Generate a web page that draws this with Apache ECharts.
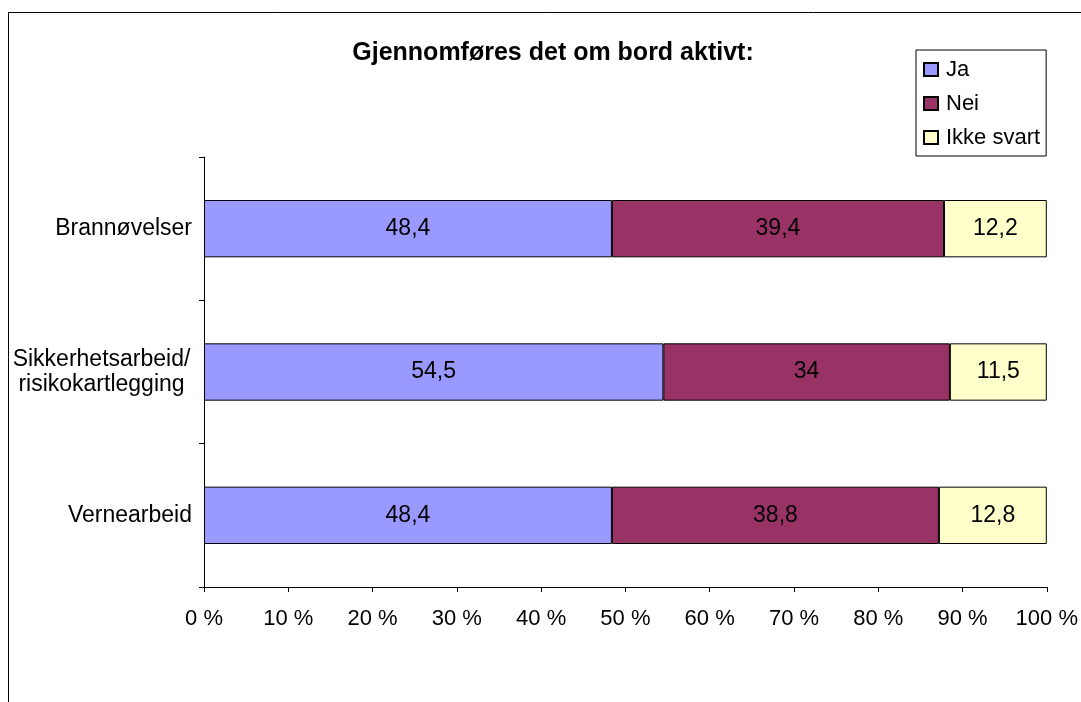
<!DOCTYPE html>
<html>
<head>
<meta charset="utf-8">
<script src="https://cdn.jsdelivr.net/npm/echarts@6/dist/echarts.min.js"></script>
<style>html,body{margin:0;padding:0;background:#fff;}#c{width:1081px;height:702px;}</style>
</head>
<body>
<div id="c"></div>
<script>
const categories = ['Brannøvelser', 'Sikkerhetsarbeid/\nrisikokartlegging', 'Vernearbeid'];
const ja = [48.4, 54.5, 48.4];
const nei = [39.4, 34, 38.8];
const ikkeSvart = [12.2, 11.5, 12.8];
const seriesNames = ['Ja', 'Nei', 'Ikke svart'];
const colors = ['#9999FF', '#993366', '#FFFFCC'];
const xTicks = [0, 10, 20, 30, 40, 50, 60, 70, 80, 90, 100];

const chart = echarts.init(document.getElementById('c'));
const font = 'Liberation Sans, Arial, sans-serif';
const fmt = v => String(v).replace('.', ',');
function mk(name, data, i) {
  return {
    name, type: 'bar', stack: 'all', data,
    barWidth: '40%',
    itemStyle: { color: colors[i], borderColor: '#000', borderWidth: 1 },
    label: { show: true, position: 'inside', color: '#000', fontFamily: font, fontSize: 23,
      formatter: p => fmt(p.value) },
    emphasis: { disabled: true }
  };
}
chart.setOption({
  animation: false,
  backgroundColor: '#fff',
  graphic: [{ type: 'rect', shape: { x: 8.5, y: 12.5, width: 1200, height: 900 },
    style: { fill: 'none', stroke: '#000', lineWidth: 1 }, silent: true }],
  title: { text: 'Gjennomføres det om bord aktivt:', left: 548, top: 36, textAlign: 'center',
    textStyle: { fontFamily: font, fontSize: 25, fontWeight: 'bold', color: '#000' } },
  legend: {
    data: seriesNames, orient: 'vertical', left: 916, top: 50,
    padding: [7, 6, 6, 7],
    itemGap: 9, itemWidth: 14, itemHeight: 13,
    backgroundColor: '#fff', borderColor: '#000', borderWidth: 1,
    icon: 'rect',
    textStyle: { fontFamily: font, fontSize: 22, color: '#000', lineHeight: 25, padding: [0, 0, 0, 3] }
  },
  grid: { left: 204, right: 34, top: 157, bottom: 115, containLabel: false },
  xAxis: {
    type: 'value', min: 0, max: 100, interval: 10,
    axisLine: { show: true, lineStyle: { color: '#000' } },
    axisTick: { show: true, length: 5, lineStyle: { color: '#000' } },
    splitLine: { show: false },
    axisLabel: { formatter: v => xTicks.includes(v) ? v + ' %' : '', fontFamily: font, fontSize: 22, color: '#000', margin: 21 }
  },
  yAxis: {
    type: 'category', data: categories, inverse: true,
    axisLine: { show: true, lineStyle: { color: '#000' } },
    axisTick: { show: true, length: 5, lineStyle: { color: '#000' } },
    axisLabel: {
      fontFamily: font, fontSize: 23, color: '#000', margin: 12, lineHeight: 25,
      formatter: v => v.includes('\n') ? v.split('\n').map(s => '{c|' + s + '}').join('\n') : v,
      rich: { c: { fontFamily: font, fontSize: 23, color: '#000', lineHeight: 25, width: 181, align: 'center' } }
    }
  },
  series: [mk(seriesNames[0], ja, 0), mk(seriesNames[1], nei, 1), mk(seriesNames[2], ikkeSvart, 2)]
});
</script>
</body>
</html>
